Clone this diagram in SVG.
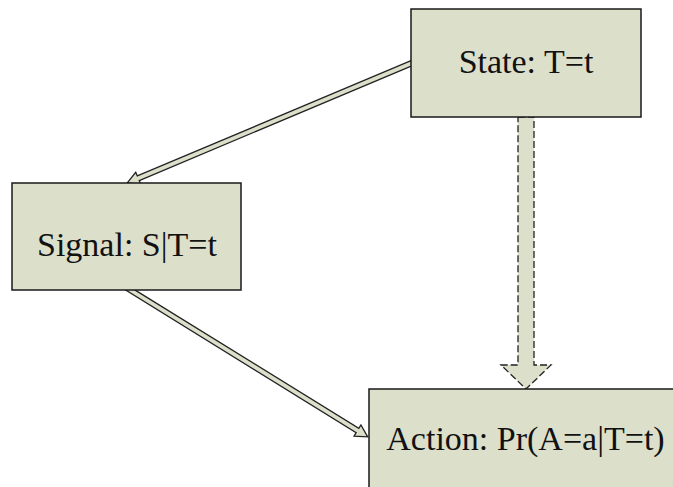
<svg xmlns="http://www.w3.org/2000/svg" width="673" height="487" viewBox="0 0 673 487">
<style>
.box{fill:#dcdfca;stroke:#1a1a1a;stroke-width:1.5}
.arr{fill:#dcdfca;stroke:#222;stroke-width:1.3;stroke-linejoin:miter}
.dash{stroke-dasharray:7,3}
text{font-family:"Liberation Serif","Times New Roman",serif;font-size:34px;fill:#111;text-anchor:middle}
</style>
<rect width="673" height="487" fill="#ffffff"/>
<g id="connectors">
<polygon class="arr" transform="translate(412,63) rotate(157.17)" points="0,-2.5 297,-2.5 297,-6.5 309,0 297,6.5 297,2.5 0,2.5"/>
<polygon class="arr" transform="translate(127,288) rotate(31.73)" points="0,-2.5 271,-2.5 271,-6.5 283,0 271,6.5 271,2.5 0,2.5"/>
<polygon class="arr dash" points="518,117 534,117 534,365 551,365 526,389 501,365 518,365"/>
</g>
<g id="state">
<rect class="box" x="411" y="9" width="230" height="108"/>
<text x="526" y="73">State: T=t</text>
</g>
<g id="signal">
<rect class="box" x="12" y="183" width="229" height="107"/>
<text x="127" y="256">Signal: S|T=t</text>
</g>
<g id="action">
<rect class="box" x="369" y="389" width="320" height="120"/>
<text x="525.5" y="450">Action: Pr(A=a|T=t)</text>
</g>
</svg>
